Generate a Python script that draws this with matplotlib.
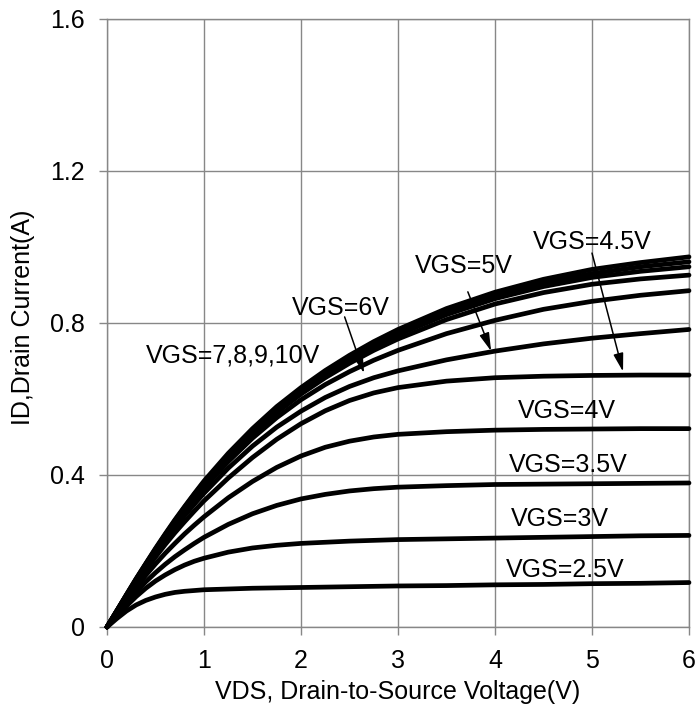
import numpy as np
import matplotlib
matplotlib.use("Agg")
import matplotlib.pyplot as plt

plt.rcParams['font.family'] = ['Liberation Sans', 'DejaVu Sans']

# drain-source voltage samples (V)
vds = [0, 0.1, 0.2, 0.3, 0.4, 0.5, 0.6, 0.7, 0.8, 0.9, 1.0, 1.25, 1.5, 1.75,
       2.0, 2.25, 2.5, 2.75, 3.0, 3.5, 4.0, 4.5, 5.0, 5.5, 6.0]

# drain current (A) for each gate voltage
id_2v5 = [0, 0.022, 0.042, 0.058, 0.07, 0.079, 0.086, 0.091, 0.094, 0.096, 0.098, 0.1, 0.102,
          0.103, 0.104, 0.105, 0.106, 0.107, 0.108, 0.109, 0.111, 0.112, 0.114, 0.115, 0.117]
id_3v = [0, 0.028, 0.055, 0.08, 0.102, 0.121, 0.137, 0.151, 0.163, 0.173, 0.181, 0.197, 0.208,
         0.215, 0.22, 0.223, 0.226, 0.228, 0.23, 0.232, 0.234, 0.236, 0.238, 0.24, 0.241]
id_3v5 = [0, 0.032, 0.063, 0.092, 0.119, 0.143, 0.165, 0.185, 0.203, 0.22, 0.236, 0.27, 0.298,
          0.32, 0.337, 0.349, 0.358, 0.364, 0.368, 0.372, 0.375, 0.376, 0.377, 0.378, 0.379]
id_4v = [0, 0.036, 0.071, 0.104, 0.136, 0.166, 0.194, 0.22, 0.245, 0.268, 0.29, 0.34, 0.383,
         0.42, 0.45, 0.473, 0.489, 0.5, 0.507, 0.514, 0.518, 0.52, 0.521, 0.522, 0.522]
id_4v5 = [0, 0.039, 0.077, 0.114, 0.15, 0.184, 0.217, 0.248, 0.277, 0.305, 0.332, 0.392, 0.446,
          0.494, 0.535, 0.569, 0.596, 0.616, 0.63, 0.647, 0.656, 0.66, 0.662, 0.663, 0.663]
id_5v = [0, 0.04, 0.08, 0.119, 0.157, 0.193, 0.228, 0.261, 0.293, 0.323, 0.352, 0.418, 0.476,
         0.526, 0.568, 0.604, 0.633, 0.656, 0.674, 0.703, 0.726, 0.745, 0.76, 0.772, 0.783]
id_6v = [0, 0.041, 0.082, 0.122, 0.161, 0.199, 0.235, 0.27, 0.303, 0.335, 0.366, 0.435, 0.497,
         0.551, 0.598, 0.638, 0.672, 0.702, 0.728, 0.772, 0.807, 0.836, 0.857, 0.873, 0.885]
id_7v = [0, 0.042, 0.083, 0.124, 0.164, 0.202, 0.239, 0.275, 0.309, 0.342, 0.374, 0.445, 0.508,
         0.564, 0.613, 0.656, 0.694, 0.728, 0.758, 0.809, 0.85, 0.88, 0.902, 0.916, 0.926]
id_8v = [0, 0.042, 0.084, 0.125, 0.165, 0.204, 0.242, 0.278, 0.313, 0.346, 0.378, 0.45, 0.514,
         0.57, 0.62, 0.664, 0.703, 0.738, 0.769, 0.822, 0.864, 0.896, 0.92, 0.936, 0.948]
id_9v = [0, 0.042, 0.084, 0.126, 0.166, 0.205, 0.243, 0.28, 0.315, 0.349, 0.381, 0.453, 0.518,
         0.575, 0.625, 0.669, 0.709, 0.744, 0.776, 0.83, 0.873, 0.906, 0.93, 0.948, 0.961]
id_10v = [0, 0.042, 0.085, 0.127, 0.167, 0.207, 0.245, 0.282, 0.317, 0.351, 0.384, 0.457, 0.522,
          0.58, 0.63, 0.675, 0.715, 0.751, 0.783, 0.838, 0.881, 0.915, 0.941, 0.959, 0.974]

curves = [id_2v5, id_3v, id_3v5, id_4v, id_4v5, id_5v,
          id_6v, id_7v, id_8v, id_9v, id_10v]

# curve labels: (text, x, baseline y)
plain_labels = [
    ("VGS=2.5V", 4.72, 0.132),
    ("VGS=3V", 4.67, 0.266),
    ("VGS=3.5V", 4.76, 0.408),
    ("VGS=4V", 4.74, 0.55),
    ("VGS=7,8,9,10V", 1.30, 0.697),
]
# arrow labels: (text, text x, baseline y, arrow start, arrow tip)
arrow_labels = [
    ("VGS=6V", 2.41, 0.821, (2.45, 0.816), (2.65, 0.668)),
    ("VGS=5V", 3.68, 0.932, (3.72, 0.882), (3.96, 0.726)),
    ("VGS=4.5V", 5.00, 0.995, (5.00, 0.984), (5.32, 0.672)),
]

grid_c = "#878787"
fs = 18

fig = plt.figure(figsize=(6.98, 7.11), dpi=100)
ax = fig.add_axes([107 / 698, 84 / 711, 582 / 698, 608 / 711])

for cur in curves:
    ax.plot(vds, cur, color="black", lw=3.4, solid_capstyle="round",
            solid_joinstyle="round", clip_on=False, zorder=3)

for txt, x, y in plain_labels:
    ax.text(x, y, txt, ha="center", va="baseline", fontsize=fs, zorder=4)

for txt, x, y, start, tip in arrow_labels:
    ax.text(x, y, txt, ha="center", va="baseline", fontsize=fs, zorder=4)
    ax.annotate("", xy=tip, xytext=start,
                arrowprops=dict(arrowstyle="-|>,head_length=1.1,head_width=0.3",
                                color="black", lw=1.1, shrinkA=0, shrinkB=0,
                                mutation_scale=10),
                zorder=4)

ax.set_xlim(0, 6)
ax.set_ylim(0, 1.6)
ax.set_xticks(range(7))
ax.set_yticks([0, 0.4, 0.8, 1.2, 1.6])
ax.set_yticklabels(["0", "0.4", "0.8", "1.2", "1.6"])
ax.grid(True, color=grid_c, lw=1.0)
ax.set_axisbelow(True)
for s in ax.spines.values():
    s.set_color(grid_c)
    s.set_linewidth(1.0)
ax.tick_params(direction="out", length=6, width=1.0, color=grid_c,
               labelsize=fs, pad=10)

ax.set_xlabel("VDS, Drain-to-Source Voltage(V)", fontsize=fs)
ax.set_ylabel("ID,Drain Current(A)", fontsize=fs)
ax.xaxis.set_label_coords(0.5, -0.087)
ax.yaxis.set_label_coords(-0.124, 0.51)

fig.savefig("out.png", dpi=100)
